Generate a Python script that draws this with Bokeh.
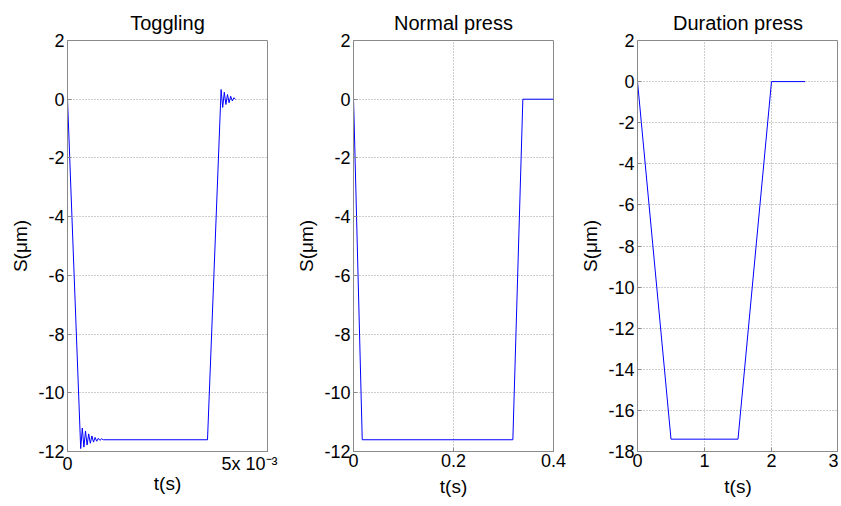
from bokeh.plotting import figure
from bokeh.layouts import row
from bokeh.models import Range1d, FixedTicker
from bokeh.embed import file_html
from bokeh.resources import INLINE

# ---- data ----
toggle_t = [0.0, 0.00033, 0.00037, 0.00041, 0.00045, 0.00049, 0.00053, 0.00057,
            0.00061, 0.00065, 0.00069, 0.00073, 0.00077, 0.00081, 0.00085, 0.0009,
            0.0035, 0.00384, 0.00388, 0.00392, 0.00396, 0.0040, 0.00404, 0.00408,
            0.00412, 0.00416, 0.0042]
toggle_s = [0.0, -11.9, -11.2, -11.85, -11.3, -11.78, -11.4, -11.72,
            -11.47, -11.68, -11.52, -11.65, -11.55, -11.62, -11.57, -11.6,
            -11.6, 0.33, -0.28, 0.24, -0.18, 0.16, -0.12, 0.1,
            -0.06, 0.05, 0.0]

normal_t = [0.0, 0.001, 0.0175, 0.3187, 0.3387, 0.4]
normal_s = [0.0, -0.6, -11.6, -11.6, 0.0, 0.0]

duration_t = [0.0, 0.5, 1.5, 2.0, 2.5]
duration_s = [0.0, -17.4, -17.4, 0.0, 0.0]

titles = ["Toggling", "Normal press", "Duration press"]
x_ticks = [[0, 0.005], [0, 0.2, 0.4], [0, 1, 2, 3]]
x_tick_labels = [{0: "0", 0.005: "5x 10\u207b\u00b3" + "\u00a0" * 3},
                 {0: "0", 0.2: "0.2", 0.4: "0.4"},
                 {0: "0", 1: "1", 2: "2", 3: "3"}]
y_ticks = [[2, 0, -2, -4, -6, -8, -10, -12], [2, 0, -2, -4, -6, -8, -10, -12],
           [2, 0, -2, -4, -6, -8, -10, -12, -14, -16, -18]]
x_ranges = [(0, 0.005), (0, 0.4), (0, 3)]
y_ranges = [(-12, 2), (-12, 2), (-18, 2)]

FONT = "Liberation Sans"
GRAY = "#8a8a8a"


def make(i, t, s, width, left, right, xgrid, xlab_standoff):
    p = figure(width=width, height=503, output_backend="svg", toolbar_location=None,
               x_range=Range1d(*x_ranges[i]), y_range=Range1d(*y_ranges[i]),
               min_border_left=left, min_border_right=right,
               min_border_top=40, min_border_bottom=52,
               title=titles[i])
    p.line(t, s, line_color="#0000ff", line_width=1)
    p.title.text_font = FONT
    p.title.text_font_size = "20px"
    p.title.text_font_style = "normal"
    p.title.align = "center"
    p.title.text_color = "#000000"
    p.title.standoff = 14
    p.outline_line_color = GRAY
    p.outline_line_alpha = 1
    for ax in (p.xaxis[0], p.yaxis[0]):
        ax.axis_line_color = GRAY
        ax.major_tick_line_color = GRAY
        ax.major_tick_in = 4
        ax.major_tick_out = 0
        ax.minor_tick_line_color = None
        ax.major_label_text_font = FONT
        ax.major_label_text_font_size = "18px"
        ax.major_label_text_color = "#000000"
        ax.axis_label_text_font = FONT
        ax.axis_label_text_font_size = "19px"
        ax.axis_label_text_font_style = "normal"
        ax.axis_label_text_color = "#000000"
    p.xaxis[0].ticker = FixedTicker(ticks=x_ticks[i])
    p.xaxis[0].major_label_overrides = x_tick_labels[i]
    p.xaxis[0].axis_label = "t(s)"
    p.xaxis[0].major_label_standoff = 2
    p.xaxis[0].axis_label_standoff = xlab_standoff
    p.yaxis[0].ticker = FixedTicker(ticks=y_ticks[i])
    p.yaxis[0].major_label_overrides = {v: str(v) for v in y_ticks[i]}
    p.yaxis[0].axis_label = "S(μm)"
    p.yaxis[0].major_label_standoff = 3
    p.yaxis[0].axis_label_standoff = 4
    p.ygrid.grid_line_color = "#9a9a9a"
    p.ygrid.grid_line_dash = "1 2"
    p.ygrid.ticker = FixedTicker(ticks=y_ticks[i])
    if xgrid:
        p.xgrid.grid_line_color = "#9a9a9a"
        p.xgrid.grid_line_dash = "1 2"
        p.xgrid.ticker = FixedTicker(ticks=x_ticks[i])
    else:
        p.xgrid.grid_line_color = None
    p.background_fill_color = "white"
    p.border_fill_color = "white"
    return p


p1 = make(0, toggle_t, toggle_s, 292, 67, 25, False, -4)
p2 = make(1, normal_t, normal_s, 285, 61, 24, True, 6)
p3 = make(2, duration_t, duration_s, 261, 60, 0, True, 6)

layout = row(p1, p2, p3)
open("out.html", "w").write(file_html(layout, INLINE))
